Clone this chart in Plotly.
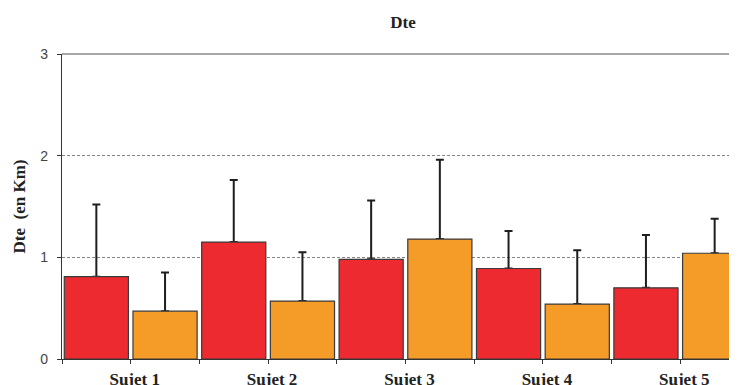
import plotly.graph_objects as go

categories = ["Sujet 1", "Sujet 2", "Sujet 3", "Sujet 4", "Sujet 5"]
red_values = [0.81, 1.15, 0.98, 0.89, 0.70]
red_errors = [0.71, 0.61, 0.58, 0.37, 0.52]
orange_values = [0.47, 0.57, 1.18, 0.54, 1.04]
orange_errors = [0.38, 0.48, 0.78, 0.53, 0.34]
y_ticks = [0, 1, 2, 3]

x_idx = list(range(len(categories)))
series = [("r", red_values, red_errors, "#EC2A2F"),
          ("o", orange_values, orange_errors, "#F59B28")]

fig = go.Figure()
# error bars first (on transparent bars) so the visible bars hide the lower cap
for grp, vals, errs, col in series:
    fig.add_trace(go.Bar(
        x=x_idx, y=vals, offsetgroup=grp, hoverinfo="skip",
        marker=dict(color="rgba(0,0,0,0)", line=dict(width=0)),
        error_y=dict(type="data", array=errs, arrayminus=[0] * len(errs),
                     symmetric=False, color="#1e1e1e", thickness=2, width=4),
    ))
for grp, vals, errs, col in series:
    fig.add_trace(go.Bar(
        x=x_idx, y=vals, offsetgroup=grp,
        marker=dict(color=col, line=dict(color="#3a3a3a", width=1.2)),
    ))

# ticks at centers (labelled) and boundaries (unlabelled)
tickvals, ticktext = [], []
for i, c in enumerate(categories):
    tickvals += [i - 0.5, i]
    ticktext += ["", c]
tickvals.append(len(categories) - 0.5)
ticktext.append("")

W, H = 729, 377  # page body has an 8px margin
fig.update_layout(
    width=W, height=H,
    margin=dict(l=54, r=0, t=46, b=26, autoexpand=False),
    paper_bgcolor="white", plot_bgcolor="white",
    showlegend=False,
    barmode="group", bargap=0.0, bargroupgap=0.066,
    title=dict(text="<b>Dte</b>", x=395 / W, xanchor="center",
               y=1 - 14 / H, yanchor="middle", yref="container",
               font=dict(family="Liberation Serif", size=17, color="#222")),
    xaxis=dict(
        range=[-0.5, 4.5 - 12 / 137.4], automargin=False,
        tickmode="array", tickvals=tickvals, ticktext=[f"<b>{t}</b>" if t else "" for t in ticktext],
        ticks="outside", ticklen=4, tickcolor="#333", tickwidth=1,
        showline=True, linecolor="#333", linewidth=1.3,
        showgrid=False, zeroline=False,
        tickfont=dict(family="Liberation Serif", size=17, color="#222"),
        ticklabelstandoff=0, ticklabelshift=4,
    ),
    yaxis=dict(
        range=[0, 3], automargin=False,
        tickvals=y_ticks, ticktext=[str(v) for v in y_ticks],
        ticks="outside", ticklen=4, tickcolor="#333", tickwidth=1,
        showline=True, linecolor="#333", linewidth=1.3,
        showgrid=True, gridcolor="#858585", griddash="3px,2px", gridwidth=1.2,
        zeroline=False,
        tickfont=dict(family="Liberation Sans", size=14, color="#444"),
        ticklabelstandoff=6,
        title=dict(text="<b>Dte\u00a0 (en Km)</b>", standoff=10,
                   font=dict(family="Liberation Serif", size=17, color="#222")),
    ),
    shapes=[dict(type="line", xref="paper", yref="paper", x0=0, x1=1, y0=1, y1=1,
                 line=dict(color="#8a8a8a", width=1.3))],
)

fig.write_html("out.html")
